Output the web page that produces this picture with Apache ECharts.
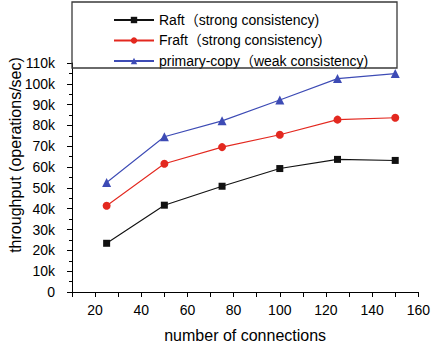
<!DOCTYPE html>
<html>
<head>
<meta charset="utf-8">
<script src="https://cdn.jsdelivr.net/npm/echarts@6/dist/echarts.min.js"></script>
<style>
  html, body { margin: 0; padding: 0; background: #fff; }
  #chart { width: 433px; height: 348px; }
</style>
</head>
<body>
<div id="chart"></div>
<script>
// Throughput vs. number of client connections
const connections = [25, 50, 75, 100, 125, 150];
const raft = [23400, 41700, 50800, 59300, 63700, 63200];
const fraft = [41400, 61600, 69600, 75500, 82800, 83700];
const primaryCopy = [52600, 74600, 82200, 92200, 102500, 104900];
const seriesNames = [
  'Raft\uFF08strong consistency)',
  'Fraft\uFF08strong consistency)',
  'primary-copy\uFF08weak consistency)'
];
const xLabels = [20, 40, 60, 80, 100, 120, 140, 160];

const FONT = '"Liberation Sans", Arial, "Noto Sans CJK SC", sans-serif';

const chart = echarts.init(document.getElementById('chart'), null, { renderer: 'svg' });

function pairs(ys) {
  return connections.map((x, i) => [x, ys[i]]);
}

chart.setOption({
  animation: false,
  backgroundColor: '#fff',
  textStyle: { fontFamily: FONT },
  grid: { left: 72, right: 14, top: 63, bottom: 54, containLabel: false },
  legend: {
    orient: 'vertical',
    left: 108,
    top: 8,
    itemWidth: 40,
    itemHeight: 8,
    itemGap: 6.5,
    textStyle: { fontFamily: FONT, fontSize: 14, color: '#000' },
    data: seriesNames
  },
  xAxis: {
    type: 'value',
    min: 10,
    max: 160,
    interval: 10,
    name: 'number of connections',
    nameLocation: 'middle',
    nameGap: 35,
    nameTextStyle: { fontFamily: FONT, fontSize: 16, color: '#000' },
    axisLine: { show: true, lineStyle: { color: '#000', width: 1 } },
    axisTick: { show: true, inside: false, length: 5, lineStyle: { color: '#000' } },
    axisLabel: {
      margin: 11,
      fontFamily: FONT,
      fontSize: 14,
      color: '#000',
      formatter: v => (xLabels.indexOf(v) >= 0 ? String(v) : '')
    },
    splitLine: { show: false }
  },
  yAxis: {
    type: 'value',
    min: 0,
    max: 110000,
    interval: 10000,
    axisLine: { show: true, lineStyle: { color: '#000', width: 1 } },
    axisTick: { show: true, inside: false, length: 5, lineStyle: { color: '#000' } },
    minorTick: { show: true, splitNumber: 2, length: 3, lineStyle: { color: '#000' } },
    axisLabel: {
      margin: 17,
      fontFamily: FONT,
      fontSize: 14,
      color: '#000',
      formatter: v => (v === 0 ? '0' : (v / 1000) + 'k')
    },
    splitLine: { show: false }
  },
  graphic: [
    {
      type: 'rect',
      shape: { x: 72, y: 2, width: 325, height: 66 },
      style: { fill: 'none', stroke: '#3a3a3a', lineWidth: 1.3 },
      z: 10
    },
    {
      type: 'text',
      x: 15,
      y: 155,
      rotation: Math.PI / 2,
      style: {
        text: 'throughput (operations/sec)',
        font: '16px ' + FONT,
        fill: '#000',
        align: 'center',
        verticalAlign: 'middle'
      }
    }
  ],
  series: [
    {
      name: seriesNames[0],
      type: 'line',
      data: pairs(raft),
      symbol: 'rect',
      symbolSize: 7,
      color: '#111111',
      lineStyle: { width: 1.1, color: '#111111' },
      itemStyle: { color: '#111111' }
    },
    {
      name: seriesNames[1],
      type: 'line',
      data: pairs(fraft),
      symbol: 'circle',
      symbolSize: 8,
      color: '#e3281f',
      lineStyle: { width: 1.1, color: '#e3281f' },
      itemStyle: { color: '#e3281f' }
    },
    {
      name: seriesNames[2],
      type: 'line',
      data: pairs(primaryCopy),
      symbol: 'triangle',
      symbolSize: 9,
      color: '#3d4bb5',
      lineStyle: { width: 1.1, color: '#3d4bb5' },
      itemStyle: { color: '#3d4bb5' }
    }
  ]
});
</script>
</body>
</html>
